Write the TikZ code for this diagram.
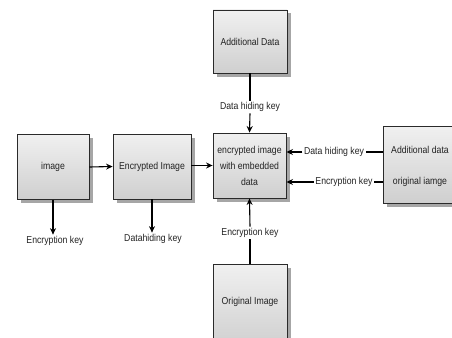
\documentclass[tikz,border=0pt]{standalone}
\usepackage{fontspec}
\setmainfont[FakeStretch=0.87]{Liberation Sans}
\usetikzlibrary{arrows.meta,shadows,calc}
\definecolor{boxtop}{HTML}{F0F0F0}
\definecolor{boxbot}{HTML}{CFCFCF}
\definecolor{edge}{HTML}{2A2A2A}
\definecolor{txt}{HTML}{222222}
\tikzset{
  blockbox/.style={draw=edge, line width=0.9pt, top color=boxtop, bottom color=boxbot,
    inner sep=0pt, align=center, text=txt, font=\fontsize{10}{16}\selectfont,
    drop shadow={shadow xshift=3.5pt, shadow yshift=-3.5pt, fill=black!35, opacity=1}},
  lbl/.style={text=txt, font=\fontsize{10}{12}\selectfont, inner sep=1.5pt},
  conn/.style={draw=black, line width=1.1pt},
  arr/.style={conn, -{Stealth[length=6.5pt, width=6pt]}}
}
\begin{document}
\begin{tikzpicture}[x=1pt, y=-1pt]
\useasboundingbox (0,0) rectangle (452,337);
% boxes
\node[blockbox, minimum width=72pt, minimum height=65pt] (img) at (53,167) {image};
\node[blockbox, minimum width=78pt, minimum height=65pt] (enc) at (152,166.5) {Encrypted Image};
\node[blockbox, minimum width=73pt, minimum height=65pt] (mid) at (249.5,165.5) {encrypted image\\with embedded\\data};
\node[blockbox, minimum width=74pt, minimum height=63pt] (add) at (250,41.5) {Additional Data};
\node[blockbox, minimum width=74pt, minimum height=84pt] (orig) at (250,306) {};
\node[lbl] (origt) at (250,302) {Original Image};
\node[blockbox, minimum width=90pt, minimum height=77pt] (rbox) at (428,164.5) {};
\node[lbl] (rt1) at (420,150) {Additional data};
\node[lbl] (rt2) at (420,181.5) {original iamge};
% labels
\node[lbl] (k1) at (55,241) {Encryption key};
\node[lbl] (k2) at (153,239) {Datahiding key};
\node[lbl] (ktop) at (250,107) {Data hiding key};
\node[lbl] (kbot) at (250,233) {Encryption key};
\node[lbl] (kr1) at (334,152) {Data hiding key};
\node[lbl] (kr2) at (344,182) {Encryption key};
% connectors
\draw[arr] (img.east) -- (enc.west);
\draw[arr] (enc.east |- mid.west) -- (mid.west);
\draw[arr] (img.south) -- (img.south |- k1.north);
\draw[arr] (enc.south) -- (enc.south |- k2.north);
\draw[conn] (add.south) -- (add.south |- ktop.north);
\draw[arr] (add.south |- ktop.south) -- (mid.north);
\draw[conn] (orig.north) -- (orig.north |- kbot.south);
\draw[arr] (orig.north |- kbot.north) -- (mid.south);
\draw[conn] (rbox.west |- kr1) -- (kr1.east);
\draw[arr] (kr1.west) -- (mid.east |- kr1);
\draw[conn] (rbox.west |- kr2) -- (kr2.east);
\draw[arr] (kr2.west) -- (mid.east |- kr2);
\end{tikzpicture}
\end{document}
